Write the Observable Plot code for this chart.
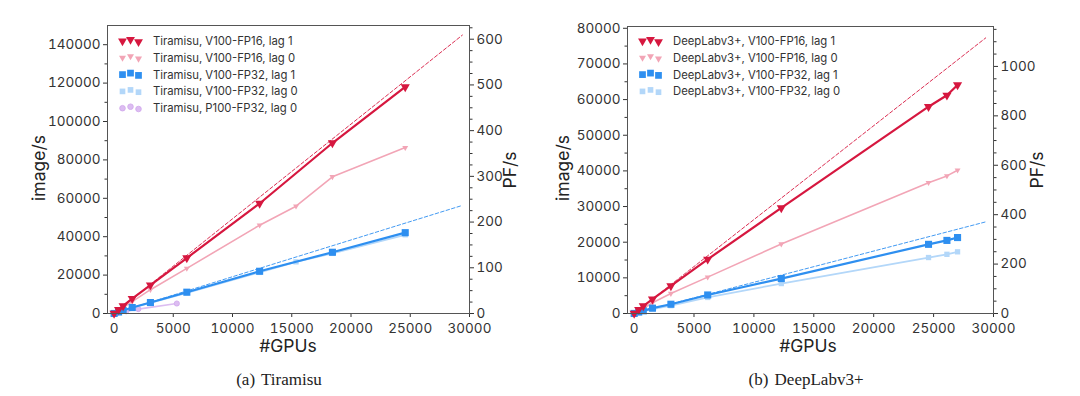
<!DOCTYPE html>
<html><head><meta charset="utf-8">
<script src="https://cdn.jsdelivr.net/npm/d3@7"></script>
<script src="https://cdn.jsdelivr.net/npm/@observablehq/plot@0.6"></script>
<style>
body{margin:0;background:#fff;width:1080px;height:396px;overflow:hidden;font-family:Inter,sans-serif;position:relative}
.panel{position:absolute;top:0;width:540px;height:396px}
.caption{position:absolute;top:380px;transform:translate(-50%,-50%);white-space:nowrap;font-family:"Liberation Serif",serif;font-size:17px;color:#222;word-spacing:2px}
.title{position:absolute;white-space:nowrap;font-family:Inter,sans-serif;font-size:17.5px;color:#222;line-height:1}
.rot{transform:translate(-50%,-50%) rotate(-90deg)}
.hor{transform:translate(-50%,-50%)}
.legend{position:absolute;left:0;top:0;overflow:visible}
</style></head><body>
<div id="a" class="panel" style="left:0"></div>
<div id="b" class="panel" style="left:540px"></div>
<script>
// ---------- Tiramisu (a) ----------
const tirGpus = [6, 384, 768, 1536, 3072, 6144, 12288, 18432, 24576];
const tirGpusLag0 = [6, 384, 768, 1536, 3072, 6144, 12288, 15360, 18432, 24576];
const tirFp16Lag1 = [30, 1950, 3950, 7800, 14800, 28900, 57300, 88800, 118000];
const tirFp16Lag0 = [25, 1600, 3100, 6200, 12400, 23500, 46000, 55900, 71200, 86400];
const tirFp32Lag1 = [12, 780, 1600, 3100, 5700, 11100, 22000, 31900, 42100];
const tirFp32Lag0 = [11, 740, 1500, 2950, 5500, 10700, 21400, 26900, 31300, 41000];
const tirP100Gpus = [8, 256, 1024, 2048, 5300];
const tirP100Lag0 = [10, 300, 1150, 2300, 5200];
const tirIdealGpus = [0, 29400];
const tirIdealFp16 = [0, 145000];
const tirIdealFp32 = [0, 56300];
const tirPfPerImage = 0.0042;
const tirImageTicks = [0, 20000, 40000, 60000, 80000, 100000, 120000, 140000];
const tirImageMinor = [10000, 30000, 50000, 70000, 90000, 110000, 130000];
const tirPfTicks = [0, 100, 200, 300, 400, 500, 600];
const tirLegend = ["Tiramisu, V100-FP16, lag 1", "Tiramisu, V100-FP16, lag 0", "Tiramisu, V100-FP32, lag 1", "Tiramisu, V100-FP32, lag 0", "Tiramisu, P100-FP32, lag 0"];

// ---------- DeepLabv3+ (b) ----------
const dlGpus = [6, 384, 768, 1536, 3072, 6144, 12288, 24576, 26112, 27000];
const dlFp16Lag1 = [45, 1100, 2100, 4000, 7750, 15200, 29600, 58000, 61200, 64100];
const dlFp16Lag0 = [30, 700, 1400, 3000, 5600, 10200, 19500, 36700, 38600, 40200];
const dlFp32Lag1 = [15, 400, 750, 1500, 2600, 5200, 9800, 19400, 20500, 21300];
const dlFp32Lag0 = [12, 350, 650, 1250, 2200, 4500, 8400, 15700, 16600, 17300];
const dlIdealGpus = [0, 29350];
const dlIdealFp16 = [0, 77300];
const dlIdealFp32 = [0, 25700];
const dlPfPerImage = 0.01443;
const dlImageTicks = [0, 10000, 20000, 30000, 40000, 50000, 60000, 70000, 80000];
const dlImageMinor = [5000, 15000, 25000, 35000, 45000, 55000, 65000, 75000];
const dlPfTicks = [0, 200, 400, 600, 800, 1000];
const dlLegend = ["DeepLabv3+, V100-FP16, lag 1", "DeepLabv3+, V100-FP16, lag 0", "DeepLabv3+, V100-FP32, lag 1", "DeepLabv3+, V100-FP32, lag 0"];

const xTicks = [0, 5000, 10000, 15000, 20000, 25000, 30000];

const RED = "#d6173f", PINK = "#f2a5b6", BLUE = "#2e8ff0", LBLUE = "#b3d7f9", LILAC = "#dcbdf1";

const rows = (xs, ys) => xs.map((x, i) => ({x, y: ys[i]}));

function series(xs, ys, color, symbol, r, sw, edge) {
  const data = rows(xs, ys);
  return [
    Plot.line(data, {x: "x", y: "y", stroke: color, strokeWidth: sw}),
    Plot.dot(data, {x: "x", y: "y", fill: color, stroke: edge || "none", strokeWidth: 0.8, symbol, r, rotate: symbol === "triangle" ? 180 : 0})
  ];
}

function minorPf(ticks) {
  const out = [];
  for (let i = 0; i < ticks.length - 1; i++) {
    const step = (ticks[i + 1] - ticks[i]) / 4;
    for (let j = 1; j < 4; j++) out.push(ticks[i] + j * step);
  }
  const step = (ticks[1] - ticks[0]) / 4;
  let v = ticks[ticks.length - 1] + step;
  for (let j = 0; j < 3; j++) { out.push(v); v += step; }
  return out;
}

function makePlot(cfg) {
  const k = cfg.pfPerImage;
  return Plot.plot({
    width: 540, height: 360,
    marginLeft: cfg.ml, marginRight: cfg.mr, marginTop: cfg.mt, marginBottom: 47,
    style: {fontFamily: "Inter, sans-serif", fontSize: "13.5px", color: "#333", background: "transparent", overflow: "visible"},
    x: {domain: [-550, 30000]},
    y: {domain: [0, cfg.ymax]},
    marks: [
      Plot.axisY(cfg.imageTicks, {anchor: "left", tickSize: 4, tickPadding: 3, tickFormat: d => String(d), label: null}),
      Plot.axisY(cfg.imageMinor, {anchor: "left", tickSize: 2.5, tickFormat: () => "", label: null}),
      Plot.axisY(cfg.pfTicks.map(p => p / k), {anchor: "right", tickSize: 4, tickPadding: 3, tickFormat: d => String(Math.round(d * k)), label: null}),
      Plot.axisY(minorPf(cfg.pfTicks).map(p => p / k).filter(v => v <= cfg.ymax), {anchor: "right", tickSize: 2.5, tickFormat: () => "", label: null}),
      Plot.axisX(xTicks, {anchor: "bottom", tickSize: 4, tickPadding: 6, tickFormat: d => String(d), label: null}),
      Plot.line(rows(cfg.idealX, cfg.idealFp16), {x: "x", y: "y", stroke: RED, strokeWidth: 0.9, strokeDasharray: "3.5,2.2"}),
      Plot.line(rows(cfg.idealX, cfg.idealFp32), {x: "x", y: "y", stroke: BLUE, strokeWidth: 0.9, strokeDasharray: "3.5,2.2"}),
      ...cfg.series.flatMap(s => series(...s)),
      Plot.frame({stroke: "#555", strokeWidth: 1})
    ]
  });
}

function addLegend(el, frameLeft, labels, styles) {
  const svg = d3.select(el).append("svg").attr("class", "legend").attr("width", 540).attr("height", 200);
  labels.forEach((lab, i) => {
    const cy = 41 + i * 16.8;
    const st = styles[i];
    const xs = [frameLeft + 15.5, frameLeft + 23.5, frameLeft + 31.5];
    const yoff = [0, -1.5, 0.8];
    const type = st.symbol === "triangle" ? d3.symbolTriangle : st.symbol === "square" ? d3.symbolSquare : d3.symbolCircle;
    xs.forEach((x, j) => {
      svg.append("path")
        .attr("d", d3.symbol(type, Math.PI * st.r * st.r)())
        .attr("transform", `translate(${x},${cy + yoff[j]}) rotate(${st.symbol === "triangle" ? 180 : 0})`)
        .attr("fill", st.color).attr("stroke", st.edge || "none").attr("stroke-width", 0.8);
    });
    svg.append("text").attr("x", frameLeft + 46).attr("y", cy).attr("dy", "0.35em")
      .attr("font-family", "Inter, sans-serif").attr("font-size", 11.3).attr("fill", "#333").text(lab);
  });
}

function addTitles(el, t) {
  const add = (txt, x, y, cls) => {
    const d = document.createElement("div");
    d.className = "title " + cls; d.textContent = txt;
    d.style.left = x + "px"; d.style.top = y + "px";
    el.appendChild(d);
  };
  add("image/s", t.ylx, 168, "rot");
  add("PF/s", t.pfx, 170, "rot");
  add("#GPUs", t.gx, 346, "hor");
  const c = document.createElement("div");
  c.className = "caption"; c.textContent = t.caption; c.style.left = t.cx + "px";
  el.appendChild(c);
}

// Panel (a)
const elA = document.getElementById("a");
elA.appendChild(makePlot({
  ml: 107, mr: 71, mt: 25, ymax: 150000, pfPerImage: tirPfPerImage,
  imageTicks: tirImageTicks, imageMinor: tirImageMinor, pfTicks: tirPfTicks,
  idealX: tirIdealGpus, idealFp16: tirIdealFp16, idealFp32: tirIdealFp32,
  series: [
    [tirP100Gpus, tirP100Lag0, LILAC, "circle", 2.6, 1.6, "#cfa6ec"],
    [tirGpusLag0, tirFp32Lag0, LBLUE, "square", 3.0, 1.8],
    [tirGpusLag0, tirFp16Lag0, PINK, "triangle", 2.2, 1.6],
    [tirGpus, tirFp32Lag1, BLUE, "square", 4.0, 2.2],
    [tirGpus, tirFp16Lag1, RED, "triangle", 3.4, 2.2]
  ]
}));
addLegend(elA, 107, tirLegend, [
  {color: RED, symbol: "triangle", r: 3.3},
  {color: PINK, symbol: "triangle", r: 2.6},
  {color: BLUE, symbol: "square", r: 3.8},
  {color: LBLUE, symbol: "square", r: 3.2},
  {color: LILAC, symbol: "circle", r: 2.8, edge: "#cfa6ec"}
]);
addTitles(elA, {ylx: 39, pfx: 510, gx: 288, caption: "(a) Tiramisu", cx: 279});

// Panel (b)
const elB = document.getElementById("b");
elB.appendChild(makePlot({
  ml: 87, mr: 87, mt: 26, ymax: 80500, pfPerImage: dlPfPerImage,
  imageTicks: dlImageTicks, imageMinor: dlImageMinor, pfTicks: dlPfTicks,
  idealX: dlIdealGpus, idealFp16: dlIdealFp16, idealFp32: dlIdealFp32,
  series: [
    [dlGpus, dlFp32Lag0, LBLUE, "square", 3.0, 1.8],
    [dlGpus, dlFp16Lag0, PINK, "triangle", 2.2, 1.6],
    [dlGpus, dlFp32Lag1, BLUE, "square", 4.0, 2.2],
    [dlGpus, dlFp16Lag1, RED, "triangle", 3.4, 2.2]
  ]
}));
addLegend(elB, 87, dlLegend, [
  {color: RED, symbol: "triangle", r: 3.3},
  {color: PINK, symbol: "triangle", r: 2.6},
  {color: BLUE, symbol: "square", r: 3.8},
  {color: LBLUE, symbol: "square", r: 3.2}
]);
addTitles(elB, {ylx: 23, pfx: 497, gx: 268, caption: "(b) DeepLabv3+", cx: 266});
</script>
</body></html>
